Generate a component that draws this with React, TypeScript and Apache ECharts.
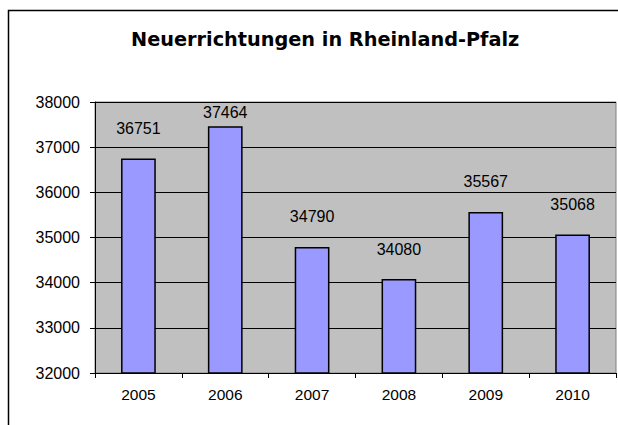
import React, { useEffect, useRef } from "react";
import * as echarts from "echarts";

const categories = ["2005", "2006", "2007", "2008", "2009", "2010"];
const values = [36751, 37464, 34790, 34080, 35567, 35068];
const titleText = "Neuerrichtungen in Rheinland-Pfalz";
const yMin = 32000;
const yMax = 38000;
const yStep = 1000;

export default function App() {
  const ref = useRef<HTMLDivElement>(null);
  useEffect(() => {
    document.body.style.margin = "0";
    const chart = echarts.init(ref.current!, null, { renderer: "svg" });
    const font = "'Liberation Sans', Arial, sans-serif";
    const gridTop = 102;
    chart.setOption({
      animation: false,
      backgroundColor: "#ffffff",
      title: {
        text: titleText,
        left: 131,
        top: 30,
        padding: 0,
        textStyle: { fontFamily: "'DejaVu Sans', sans-serif", fontSize: 19.3, fontWeight: "bold", color: "#000" },
      },
      graphic: [
        {
          type: "rect",
          shape: { x: 8.5, y: 10.5, width: 800, height: 600 },
          style: { fill: "none", stroke: "#000", lineWidth: 1.5 },
          silent: true,
        },
      ],
      grid: {
        left: 95,
        top: gridTop,
        width: 521,
        height: 271,
        show: true,
        backgroundColor: "#C0C0C0",
        borderColor: "#808080",
        borderWidth: 1,
      },
      xAxis: {
        type: "category",
        data: categories,
        axisLine: { show: true, lineStyle: { color: "#000", width: 1 } },
        axisTick: { show: true, length: 5, lineStyle: { color: "#000" } },
        axisLabel: { color: "#000", fontSize: 15.5, fontFamily: font, margin: 13 },
      },
      yAxis: {
        type: "value",
        min: yMin,
        max: yMax,
        interval: yStep,
        axisLine: { show: true, lineStyle: { color: "#000", width: 1 } },
        axisTick: { show: true, length: 5, lineStyle: { color: "#000" } },
        axisLabel: {
          color: "#000",
          fontSize: 16,
          fontFamily: font,
          margin: 15,
          formatter: (v: number) => String(v),
        },
        splitLine: { show: true, lineStyle: { color: "#000", width: 1 } },
      },
      series: [
        {
          type: "bar",
          data: values,
          barWidth: "40%",
          itemStyle: { color: "#9999FF", borderColor: "#000", borderWidth: 1.5 },
          label: {
            show: true,
            position: "top",
            distance: 22,
            color: "#000",
            fontSize: 16,
            fontFamily: font,
          },
          labelLayout: (p: any) => {
            if (p.labelRect && p.labelRect.y < gridTop + 2) {
              return { y: gridTop + 2, verticalAlign: "top", align: "center", x: p.labelRect.x + p.labelRect.width / 2 };
            }
            return {};
          },
        },
      ],
    });
    return () => chart.dispose();
  }, []);
  return <div ref={ref} style={{ width: 618, height: 425 }} />;
}
